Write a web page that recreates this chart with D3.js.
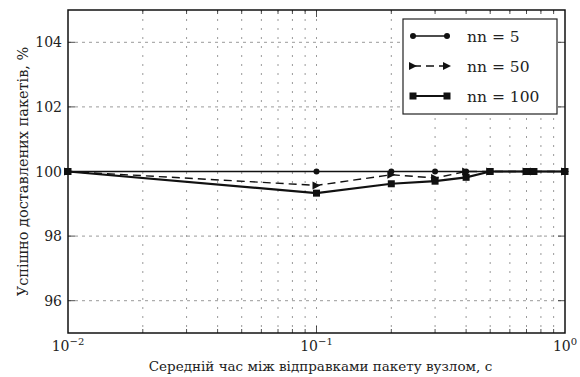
<!DOCTYPE html>
<html>
<head>
<meta charset="utf-8">
<script src="https://cdn.jsdelivr.net/npm/d3@7"></script>
<style>
  body { margin: 0; background: #fff; }
</style>
</head>
<body>
<div id="chart"></div>
<script>
const xValues = [0.01, 0.1, 0.2, 0.3, 0.4, 0.5, 0.7, 0.75, 1.0];
const nn5 = [100, 100, 100, 100, 100, 100, 100, 100, 100];
const nn50 = [100, 99.57, 99.9, 99.8, 100, 100, 100, 100, 100];
const nn100 = [100, 99.33, 99.62, 99.7, 99.82, 100, 100, 100, 100];
const seriesNames = ['nn = 5', 'nn = 50', 'nn = 100'];
const yTicks = [96, 98, 100, 102, 104];
const xMajor = [0.01, 0.1, 1];
const xTitle = 'Середній час між відправками пакету вузлом, с';
const yTitle = 'Успішно доставлених пакетів, %';

const width = 580, height = 377;
const margin = { top: 10, right: 15, bottom: 44, left: 68 };
const iw = width - margin.left - margin.right;
const ih = height - margin.top - margin.bottom;
const serif = "'DejaVu Serif', 'Liberation Serif', 'Noto Serif', 'Times New Roman', serif";

const svg = d3.select('#chart').append('svg')
  .attr('width', width)
  .attr('height', height)
  .attr('font-family', serif)
  .style('font-family', serif);

const x = d3.scaleLog().domain([0.01, 1]).range([margin.left, margin.left + iw]);
const y = d3.scaleLinear().domain([95, 105]).range([margin.top + ih, margin.top]);

// minor log ticks
const xMinor = [];
[0.01, 0.1].forEach(b => { for (let k = 2; k <= 9; k++) xMinor.push(b * k); });

const grid = svg.append('g').attr('stroke', '#555').attr('stroke-width', 0.6);
grid.selectAll('.vg').data(xMinor.concat([0.1])).enter().append('line')
  .attr('x1', d => x(d)).attr('x2', d => x(d))
  .attr('y1', margin.top).attr('y2', margin.top + ih)
  .attr('stroke-dasharray', '2,7');
grid.selectAll('.hg').data(yTicks).enter().append('line')
  .attr('x1', margin.left).attr('x2', margin.left + iw)
  .attr('y1', d => y(d)).attr('y2', d => y(d))
  .attr('stroke-dasharray', '3,4');

// inner tick marks
const ticks = svg.append('g').attr('stroke', '#222').attr('stroke-width', 0.8);
xMinor.forEach(v => {
  ticks.append('line').attr('x1', x(v)).attr('x2', x(v)).attr('y1', margin.top + ih).attr('y2', margin.top + ih - 4);
  ticks.append('line').attr('x1', x(v)).attr('x2', x(v)).attr('y1', margin.top).attr('y2', margin.top + 4);
});
[0.1].forEach(v => {
  ticks.append('line').attr('x1', x(v)).attr('x2', x(v)).attr('y1', margin.top + ih).attr('y2', margin.top + ih - 7);
  ticks.append('line').attr('x1', x(v)).attr('x2', x(v)).attr('y1', margin.top).attr('y2', margin.top + 7);
});
yTicks.forEach(v => {
  ticks.append('line').attr('x1', margin.left).attr('x2', margin.left + 7).attr('y1', y(v)).attr('y2', y(v));
  ticks.append('line').attr('x1', margin.left + iw).attr('x2', margin.left + iw - 7).attr('y1', y(v)).attr('y2', y(v));
});

// y tick labels
svg.selectAll('.yl').data(yTicks).enter().append('text')
  .attr('x', margin.left - 6)
  .attr('y', d => y(d) + 5)
  .attr('text-anchor', 'end')
  .attr('font-size', 14)
  .attr('fill', '#222')
  .text(d => d);

// x tick labels 10^n
xMajor.forEach(v => {
  const e = Math.round(Math.log10(v));
  const t = svg.append('text')
    .attr('x', x(v))
    .attr('y', margin.top + ih + 18)
    .attr('text-anchor', 'middle')
    .attr('font-size', 14)
    .attr('fill', '#222');
  t.append('tspan').text('10');
  t.append('tspan').attr('dy', -6).attr('font-size', 10).text(e === 0 ? '0' : '\u2212' + Math.abs(e));
});

// axis titles
svg.append('text')
  .attr('x', margin.left + iw / 2 + 4)
  .attr('y', height - 6)
  .attr('text-anchor', 'middle')
  .attr('font-size', 13.5)
  .attr('fill', '#222')
  .text(xTitle);
svg.append('text')
  .attr('transform', `translate(28,${margin.top + ih / 2}) rotate(-90)`)
  .attr('text-anchor', 'middle')
  .attr('font-size', 14.5)
  .attr('fill', '#222')
  .text(yTitle);

// series
const line = d3.line().x(d => x(d[0])).y(d => y(d[1]));
const series = [
  { name: seriesNames[0], values: nn5, dash: null, width: 1.4, marker: 'circle' },
  { name: seriesNames[1], values: nn50, dash: '8,5', width: 1.4, marker: 'triangle' },
  { name: seriesNames[2], values: nn100, dash: null, width: 2.2, marker: 'square' }
];

function drawMarker(g, type, cx, cy) {
  if (type === 'circle') {
    g.append('circle').attr('cx', cx).attr('cy', cy).attr('r', 3).attr('fill', '#111');
  } else if (type === 'square') {
    g.append('rect').attr('x', cx - 3.5).attr('y', cy - 3.5).attr('width', 7).attr('height', 7).attr('fill', '#111');
  } else {
    g.append('path').attr('d', `M${cx - 4},${cy - 4}L${cx + 4},${cy}L${cx - 4},${cy + 4}Z`).attr('fill', '#111');
  }
}

const plot = svg.append('g');
series.slice().reverse().forEach(s => {
  const pts = xValues.map((v, i) => [v, s.values[i]]);
  plot.append('path')
    .attr('d', line(pts))
    .attr('fill', 'none')
    .attr('stroke', '#111')
    .attr('stroke-width', s.width)
    .attr('stroke-dasharray', s.dash);
  pts.forEach(p => drawMarker(plot, s.marker, x(p[0]), y(p[1])));
});

// frame
svg.append('rect')
  .attr('x', margin.left).attr('y', margin.top)
  .attr('width', iw).attr('height', ih)
  .attr('fill', 'none').attr('stroke', '#111').attr('stroke-width', 1.5);

// legend
const lg = svg.append('g');
lg.append('rect')
  .attr('x', 403).attr('y', 19).attr('width', 154).attr('height', 95)
  .attr('fill', '#fff').attr('stroke', '#222').attr('stroke-width', 1.2);
series.forEach((s, i) => {
  const ly = 36 + i * 30;
  lg.append('line')
    .attr('x1', 413).attr('x2', 447).attr('y1', ly).attr('y2', ly)
    .attr('stroke', '#111').attr('stroke-width', s.width)
    .attr('stroke-dasharray', s.dash);
  drawMarker(lg, s.marker, 413, ly);
  drawMarker(lg, s.marker, 447, ly);
  lg.append('text')
    .attr('x', 467).attr('y', ly + 6)
    .attr('font-size', 15.5)
    .attr('fill', '#222')
    .text(s.name);
});
</script>
</body>
</html>
